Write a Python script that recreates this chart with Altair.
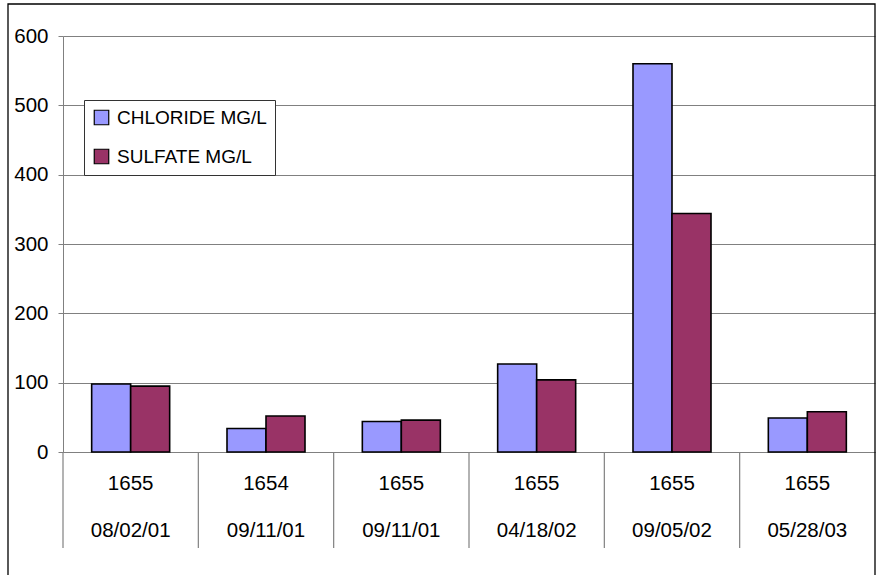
import altair as alt
import pandas as pd

wells = ["1655", "1654", "1655", "1655", "1655", "1655"]
dates = ["08/02/01", "09/11/01", "09/11/01", "04/18/02", "09/05/02", "05/28/03"]
chloride = [98, 34, 44, 127, 560, 49]
sulfate = [95, 52, 46, 104, 344, 58]
series = ["CHLORIDE MG/L", "SULFATE MG/L"]
colors = ["#9999FF", "#993366"]
y_ticks = [0, 100, 200, 300, 400, 500, 600]

cats = [f"{w}|{d}" for w, d in zip(wells, dates)]
rows = []
for c, v1, v2 in zip(cats, chloride, sulfate):
    rows.append({"cat": c, "series": series[0], "value": v1})
    rows.append({"cat": c, "series": series[1], "value": v2})
df = pd.DataFrame(rows)
cat_df = pd.DataFrame({"cat": cats})

FONT = "Liberation Sans"
GRAY = "#808080"

x_axis = alt.Axis(
    title=None, labelExpr="split(datum.label, '|')", labelAngle=0, ticks=False,
    domainColor=GRAY, labelFontSize=20.5, labelFont=FONT, labelColor="black",
    labelPadding=21, labelLineHeight=47.5, labelBaseline="top", grid=False,
    labelOverlap=False,
)
x_scale = alt.Scale(paddingInner=0, paddingOuter=0)

bars = alt.Chart(df).mark_bar(stroke="black", strokeWidth=1.6).encode(
    x=alt.X("cat:N", sort=cats, scale=x_scale, axis=x_axis),
    xOffset=alt.XOffset("series:N", sort=series,
                        scale=alt.Scale(paddingOuter=0.735, paddingInner=0)),
    y=alt.Y("value:Q", scale=alt.Scale(domain=[0, 600], nice=False),
            axis=alt.Axis(title=None, values=y_ticks, tickSize=5, tickColor=GRAY,
                          domainColor=GRAY, gridColor=GRAY, gridWidth=1,
                          labelFontSize=20.5, labelFont=FONT, labelColor="black",
                          labelPadding=10)),
    color=alt.Color("series:N", sort=series,
                    scale=alt.Scale(domain=series, range=colors),
                    legend=alt.Legend(orient="none", legendX=21, legendY=64, title=None,
                                      strokeColor="#333333", fillColor="white", padding=8,
                                      symbolType="square", symbolSize=210,
                                      symbolStrokeColor="black", symbolStrokeWidth=1.2,
                                      symbolOpacity=1,
                                      labelFontSize=19, labelFont=FONT, labelColor="black",
                                      rowPadding=18, labelOffset=6)),
)

seps = alt.Chart(cat_df).mark_rule(color=GRAY, strokeWidth=1.2).encode(
    x=alt.X("cat:N", sort=cats, scale=x_scale, axis=x_axis, bandPosition=0),
    y=alt.value(416),
    y2=alt.value(512),
)

frame = alt.Chart(pd.DataFrame({"a": [0]})).mark_rect(
    fillOpacity=0, stroke="black", strokeWidth=1.3
).encode(
    x=alt.value(-55), x2=alt.value(812), y=alt.value(-32), y2=alt.value(640)
)

chart = alt.layer(frame, bars, seps).properties(
    width=812, height=416,
    autosize=alt.AutoSizeParams(type="none"),
    padding={"left": 63, "top": 36, "right": 1, "bottom": 123},
).configure_view(stroke="transparent")

chart.save("out.html", embed_options={"renderer": "svg", "actions": False})
